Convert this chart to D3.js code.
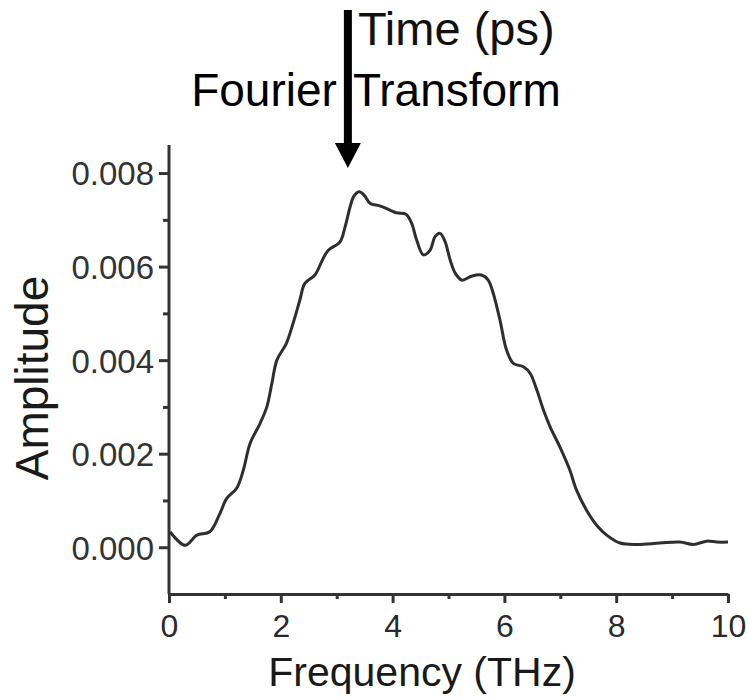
<!DOCTYPE html>
<html>
<head>
<meta charset="utf-8">
<script src="https://cdn.jsdelivr.net/npm/d3@7"></script>
<style>
  body { margin: 0; background: #fff; }
  svg { display: block; font-family: "Liberation Sans", Arial, sans-serif; }
</style>
</head>
<body>
<script>
// spectrum (frequency in THz, amplitude in a.u.)
const freq = [0.02, 0.29, 0.5, 0.73, 0.91, 1.03, 1.21, 1.33, 1.45, 1.63, 1.75, 1.84, 1.93, 2.1, 2.22,
  2.34, 2.43, 2.61, 2.76, 2.85, 3.06, 3.15, 3.24, 3.30, 3.40, 3.49, 3.60, 3.77, 3.95, 4.07, 4.24,
  4.34, 4.43, 4.55, 4.67, 4.76, 4.85, 4.94, 5.03, 5.12, 5.24, 5.42, 5.59, 5.71, 5.80, 5.92, 6.04,
  6.16, 6.34, 6.46, 6.58, 6.70, 6.82, 6.99, 7.17, 7.29, 7.47, 7.65, 7.83, 8.07, 8.37, 8.78, 9.14,
  9.38, 9.62, 9.80, 10.0]
const amp = [0.33, 0.04, 0.26, 0.33, 0.72, 1.04, 1.26, 1.65, 2.22, 2.65, 3.0, 3.5, 4.0, 4.36, 4.79,
  5.28, 5.64, 5.82, 6.18, 6.35, 6.53, 6.85, 7.28, 7.49, 7.60, 7.53, 7.35, 7.30, 7.21, 7.15, 7.12,
  6.93, 6.57, 6.25, 6.35, 6.64, 6.71, 6.53, 6.14, 5.86, 5.71, 5.80, 5.82, 5.71, 5.43, 4.86, 4.21,
  3.93, 3.86, 3.72, 3.36, 2.93, 2.57, 2.15, 1.65, 1.22, 0.79, 0.47, 0.26, 0.09, 0.06, 0.09, 0.11,
  0.06, 0.13, 0.11, 0.11].map(v => v * 1e-3)

const xTicks = [0, 2, 4, 6, 8, 10]
const xMinor = [1, 3, 5, 7, 9]
const yTicks = [0, 0.002, 0.004, 0.006, 0.008]
const yMinor = [0.001, 0.003, 0.005, 0.007]
const arrowAt = 3.2

const width = 748, height = 698
const margin = {top: 145, right: 20, bottom: 104, left: 169}

const svg = d3.select('body').append('svg')
  .attr('width', width)
  .attr('height', height)

const x = d3.scaleLinear()
  .domain([0, 10])
  .range([margin.left, 728])

const y = d3.scaleLinear()
  .domain([-0.001, 0.0086])
  .range([height - margin.bottom, margin.top])

const axisColor = '#333'

// minor ticks first, no labels
svg.append('g')
  .attr('transform', 'translate(0,' + y(-0.001) + ')')
  .call(d3.axisBottom(x).tickValues(xMinor).tickSize(5).tickFormat(''))
  .call(g => g.select('.domain').remove())
svg.append('g')
  .attr('transform', 'translate(' + x(0) + ',0)')
  .call(d3.axisLeft(y).tickValues(yMinor).tickSize(6).tickFormat(''))
  .call(g => g.select('.domain').remove())

const xAxis = svg.append('g')
  .attr('transform', 'translate(0,' + y(-0.001) + ')')
  .call(d3.axisBottom(x).tickValues(xTicks).tickSize(9).tickSizeOuter(0).tickPadding(11))
xAxis.selectAll('text')
  .style('font-size', '32px')
  .attr('fill', '#2a2a2a')

const yAxis = svg.append('g')
  .attr('transform', 'translate(' + x(0) + ',0)')
  .call(d3.axisLeft(y).tickValues(yTicks).tickSize(10).tickSizeOuter(0).tickPadding(5)
    .tickFormat(d3.format('.3f')))
yAxis.selectAll('text')
  .style('font-size', '33px')
  .attr('dy', '0.36em')
  .attr('fill', '#333')

svg.selectAll('.domain, .tick line')
  .attr('stroke', axisColor)
  .attr('stroke-width', 3)

// stretch y axis line to its top
yAxis.select('.domain').attr('d', 'M0,' + y(-0.001) + 'V' + y(0.0086))

const line = d3.line()
  .x((d, i) => x(freq[i]))
  .y(d => y(d))
  .curve(d3.curveCatmullRom)

svg.append('path')
  .datum(amp)
  .attr('fill', 'none')
  .attr('stroke', '#2e2e2e')
  .attr('stroke-width', 3)
  .attr('stroke-linejoin', 'round')
  .attr('d', line)

// axis titles
svg.append('text')
  .attr('x', 422)
  .attr('y', 686)
  .attr('text-anchor', 'middle')
  .style('font-size', '41px')
  .attr('fill', '#1a1a1a')
  .text('Frequency (THz)')

svg.append('text')
  .attr('transform', 'translate(48,' + 378 + ') rotate(-90)')
  .attr('text-anchor', 'middle')
  .style('font-size', '46px')
  .attr('fill', '#1a1a1a')
  .text('Amplitude')

// arrow + labels on top
const ax = x(arrowAt)
svg.append('rect')
  .attr('x', ax - 4)
  .attr('y', 10)
  .attr('width', 8)
  .attr('height', 135)
  .attr('fill', '#000')
svg.append('path')
  .attr('d', 'M' + (ax - 13) + ',143L' + (ax + 13) + ',143L' + ax + ',168Z')
  .attr('fill', '#000')

svg.append('text')
  .attr('x', ax + 10)
  .attr('y', 45)
  .style('font-size', '47px')
  .attr('fill', '#111')
  .text('Time (ps)')

svg.append('text')
  .attr('x', ax - 11)
  .attr('y', 106)
  .attr('text-anchor', 'end')
  .style('font-size', '46px')
  .text('Fourier')
svg.append('text')
  .attr('x', ax + 5)
  .attr('y', 106)
  .style('font-size', '46px')
  .text('Transform')
</script>
</body>
</html>
